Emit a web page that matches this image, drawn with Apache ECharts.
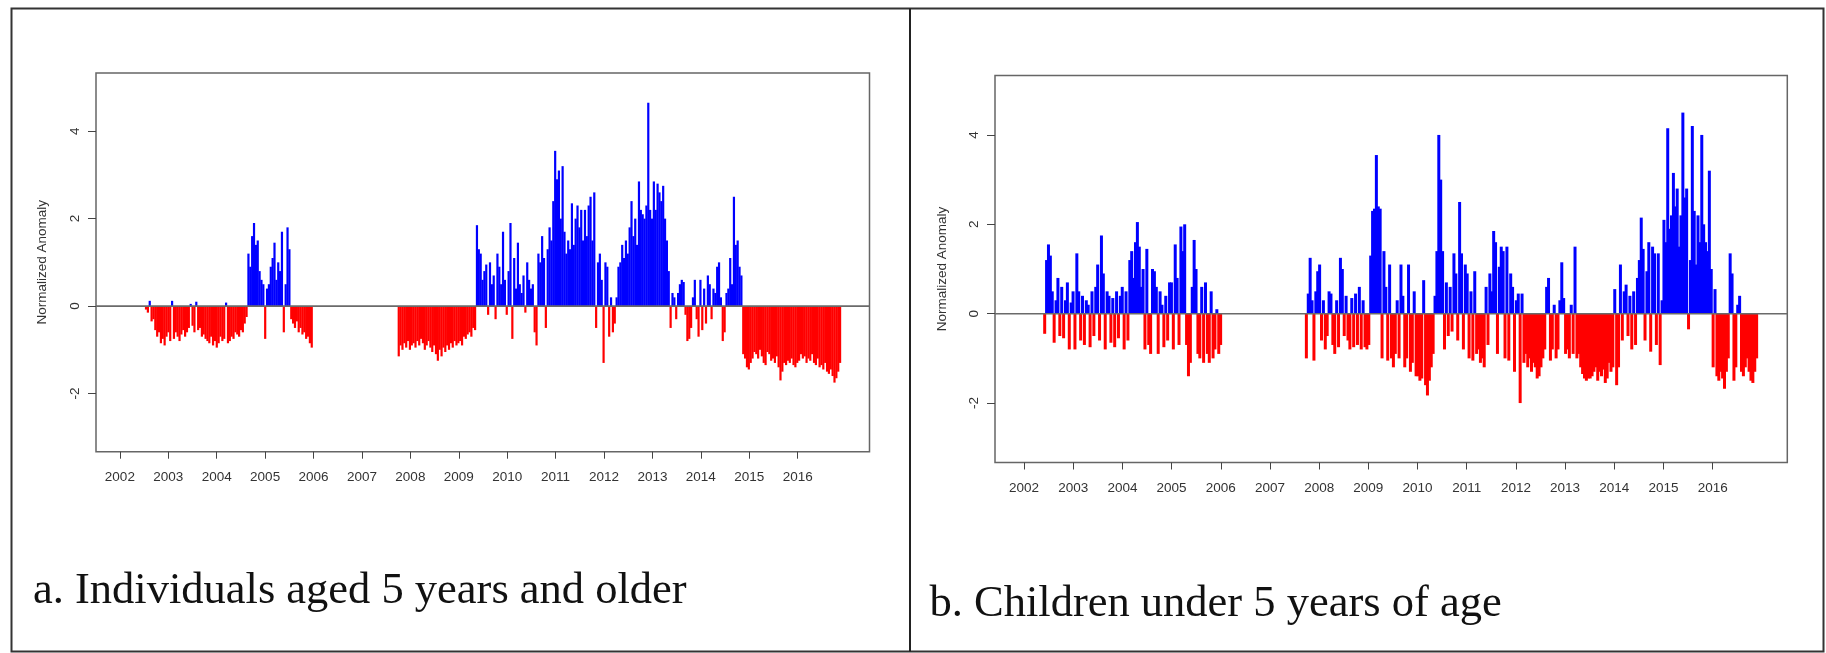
<!DOCTYPE html>
<html><head><meta charset="utf-8">
<script src="https://cdn.jsdelivr.net/npm/echarts@6/dist/echarts.min.js"></script>
<style>html,body{margin:0;padding:0;background:#fff}#c{width:1826px;height:653px}</style>
</head><body><div id="c"></div>
<script>
// ---- data (biweekly normalized anomalies) ----
const STEP = 1 / 26; // two weeks, in years
const yearTicks = [2002, 2003, 2004, 2005, 2006, 2007, 2008, 2009, 2010, 2011, 2012, 2013, 2014, 2015, 2016];
const yTicks = [-2, 0, 2, 4];
const yRange = [-3.33, 5.33];
const aRange = [2001.507, 2017.483];
const bRange = [2001.41, 2017.517];
const yTitle = 'Normalized Anomaly';
const titleA = 'a. Individuals aged 5 years and older';
const titleB = 'b. Children under 5 years of age';

// Panel a: individuals aged 5 years and older
const aStart1 = 2002.54;
const aSeg1 = [
  -0.08, -0.15, 0.12, -0.35, -0.3, -0.55, -0.7, -0.6, -0.85, -0.75, -0.9, -0.7,
  -0.6, -0.8, 0.12, -0.75, -0.6, -0.7, -0.8, -0.65, -0.55, -0.7, -0.6, -0.5, 0.05,
  -0.45, -0.6, 0.1, -0.55, -0.5, -0.7, -0.65, -0.75, -0.8, -0.85, -0.7, -0.9, -0.8,
  -0.95, -0.85, -0.7, -0.8, -0.75, 0.08, -0.85, -0.8, -0.7, -0.75, -0.6, -0.65, -0.7,
  -0.55, -0.6, -0.4, -0.25,
  1.2, 0.9, 1.6, 1.9, 1.4, 1.5, 0.8, 0.6, 0.5, -0.75, 0.4, 0.5, 0.9, 1.1, 1.45, 0.6, 1.0, 0.8, 1.7, -0.6, 0.5, 1.8, 1.3,
  -0.3, -0.4, -0.5, -0.35, -0.6, -0.5, -0.65, -0.6, -0.75, -0.7, -0.85, -0.95
];
const aStart2 = 2007.76;
const aSeg2 = [
  -1.15, -0.9, -1.0, -0.85, -0.95, -0.8,
  -1.0, -0.9, -0.85, -0.95, -0.8, -0.9, -0.75, -0.85, -1.0, -0.9, -0.8, -0.95, -1.05,
  -0.9, -1.1, -1.25, -1.0, -1.15, -0.95, -1.05, -0.9, -1.0, -0.85, -0.95, -0.8, -0.9,
  -0.85, -0.8, -0.9, -0.7, -0.75, -0.65, -0.6, -0.7, -0.5, -0.55,
  1.85, 1.3, 1.2, 0.6, 0.8, 0.95, -0.2, 1.0, 0.5, 0.7, -0.3, 1.2, 0.9, 0.5, 1.7, 0.6,
  -0.2, 0.8, 1.9, -0.75, 1.1, 0.4, 1.45, 0.5, 0.3, 0.7, -0.15, 1.0, 0.6,
  0.4, 0.5, -0.6, -0.9, 1.2, 1.0, 1.6, 1.1, -0.5, 1.3, 1.8, 1.5, 2.4,
  3.55, 2.9, 3.1, 2.0, 3.2, 1.7, 1.2, 1.5, 1.3, 2.35, 1.4, 2.0, 2.3,
  1.8, 2.2, 1.5, 2.2, 1.6, 2.3, 2.5, 1.5, 2.6, -0.5, 1.0, 1.2, 0.6,
  -1.3, 1.0, 0.9, -0.7, 0.2, -0.6, -0.4, 0.2, 0.9, 1.0, 1.4, 1.1, 1.5,
  1.2, 1.8, 2.4, 1.6, 2.0, 1.4, 2.85, 2.2, 2.1, 2.0, 2.3, 4.65, 2.2,
  2.0, 2.85, 2.2, 2.8, 2.6, 2.4, 2.75, 2.0, 1.5, 0.8, -0.5, 0.3, 0.2,
  -0.3, 0.3, 0.5, 0.6, 0.55, -0.2, -0.8, -0.75, -0.5, 0.2, 0.6, -0.3, -0.7,
  0.6, -0.55, 0.4, -0.4, 0.7, 0.5, -0.3, 0.4, 0.3, 0.9, 1.0, 0.2, -0.8,
  -0.6, 0.3, 0.4, 1.1, 0.5, 2.5, 1.4, 1.5, 0.9, 0.7,
  -1.1, -1.2, -1.4,
  -1.45, -1.3, -1.2, -1.05, -1.1, -1.2, -1.0, -1.15, -1.3, -1.35, -1.05, -1.1, -1.25,
  -1.2, -1.3, -1.15, -1.4, -1.7, -1.5, -1.3, -1.35, -1.25, -1.3, -1.2, -1.35, -1.4,
  -1.3, -1.25, -1.1, -1.2, -1.15, -1.3, -1.2, -1.25, -1.1, -1.3, -1.35, -1.2, -1.4,
  -1.35, -1.45, -1.3, -1.5, -1.55, -1.45, -1.6, -1.75, -1.65, -1.5, -1.3
];

// Panel b: children under 5 years of age
const bStart1 = 2002.42;
const bSeg1 = [
  -0.45, 1.2, 1.55, 1.3, 0.5, -0.65, 0.3, 0.8, -0.5, 0.6, -0.55, 0.3, 0.7, -0.8, 0.25,
  0.5, -0.8, 1.35, 0.5, -0.6, 0.4, -0.7, 0.3, 0.2, -0.75, 0.5, -0.5, 0.6,
  1.1, -0.6, 1.75, 0.9, -0.8, 0.5, 0.4, -0.65, 0.35, -0.75, 0.5, -0.55, 0.4,
  0.6, -0.8, 0.5, -0.6, 1.2, 1.4, 0.8, 1.6, 2.05, 1.5, 0.6, 1.0, -0.8,
  1.45, -0.7, -0.9, 1.0, 0.95, 0.6, -0.9, 0.5, 0.2, -0.75, 0.4, -0.6, 0.7,
  0.7, -0.8, 1.55, 0.8, -0.7, 1.95, 1.4, 2.0, -0.7, -1.4, -1.1, 0.6, 1.65,
  1.0, -0.9, -1.0, 0.6, -1.1, 0.7, -0.9, -1.1, 0.5, -1.0, -0.8, 0.1, -0.9, -0.7
];
const bStart2 = 2007.74;
const bSeg2 = [
  -1.0, 0.45, 1.25, 0.3, -1.05, 0.5, 0.95,
  1.1, -0.6, 0.3, -0.8, -0.5, 0.5, 0.45, -0.7, -0.9, 0.3, -0.75, 1.25, 1.0,
  -0.5, 0.4, -0.6, -0.8, 0.35, -0.75, 0.45, -0.7, 0.6, -0.8, 0.3, -0.75, -0.8,
  -0.7, 1.3, 2.3, 2.35, 3.55, 2.4, 2.35, -1.0, 1.4, 0.6, -1.05, 1.1, -1.0,
  -1.2, -0.9, 0.3, -1.0, 1.1, 0.4, -1.2, -1.0, 1.1, -1.3, -1.1, 0.5, -1.4,
  -1.4, -1.5, -1.45, 0.75, -1.6, -1.83, -1.5, -1.2, -0.9, 0.4, 1.4, 4.0, 3.0,
  1.4, -0.8, 0.7, -0.5, 0.6, -0.4, 1.35, 0.9, -0.6, 2.5, 1.35, -0.8, 1.1,
  0.9, -1.0, 0.5, -1.05, 0.95, -0.9, -0.8, -1.1, -1.0, -1.2, 0.6, -0.7, 0.9,
  0.5, 1.85, 1.6, -0.9, 1.05, 1.5, 1.4, -1.0, 1.5, -1.05, 0.9, 0.6, -1.3,
  0.3, 0.45, -2.0, 0.45, -1.1, -0.9, -1.2, -1.0, -1.3, -1.1, -1.2, -1.45, -1.4,
  -1.2, -1.0, -0.8, 0.6, 0.8, -1.05, -0.8, 0.2, -1.0, -0.8, 0.3, 1.15, 0.35,
  -0.9, -0.8, -1.0, 0.2, -0.9, 1.5, -1.0, -0.9, -1.2, -1.35, -1.45, -1.5, -1.45,
  -1.45, -1.4, -1.3, -1.2, -1.5, -1.3, -1.4, -1.25, -1.55, -1.45, -1.1, -1.3, -1.2,
  0.55, -1.6, -1.2, 1.1, -0.6, 0.5, 0.65, -0.5, 0.4, -0.8, 0.5, -0.7, 0.8,
  1.2, 2.15, 1.45, -0.6, 0.95, 1.6, -0.85, 1.5, 1.35, -0.7, 1.35, -1.15, 0.3,
  2.1, 1.6, 4.15, 1.9, 2.2, 3.15, 2.4, 2.8, 1.5, 2.2, 4.5, 2.6, 2.8,
  -0.35, 1.2, 4.2, 2.3, 1.1, 2.2, 1.6, 4.0, 2.0, 1.6, 1.4, 3.2, 1.0,
  -1.2, 0.55, -1.4, -1.5, -1.3, -1.45, -1.68, -1.3, -1.0, 1.35, 0.9, -1.5, -1.2,
  0.2, 0.4, -1.3, -1.4, -1.2, -1.0, -1.3, -1.5, -1.55, -1.3, -1.0
];

// ---- build ----
function seg(start, vals) { return vals.map((v, i) => [start + i * STEP, v]); }
const aData = seg(aStart1, aSeg1).concat(seg(aStart2, aSeg2));
const bData = seg(bStart1, bSeg1).concat(seg(bStart2, bSeg2));

const SANS = 'Liberation Sans';
const TXT = '#333';

function xAxisFor(gi, range) {
  return {
    type: 'value', gridIndex: gi, min: range[0], max: range[1],
    axisLine: { show: false, onZero: false }, splitLine: { show: false },
    axisTick: { show: true, customValues: yearTicks, length: 7, lineStyle: { color: '#444', width: 1 } },
    axisLabel: { show: true, customValues: yearTicks, formatter: v => String(v), margin: 19,
      fontSize: 13.5, color: TXT, fontFamily: SANS }
  };
}
function yAxisFor(gi, gap) {
  return {
    type: 'value', gridIndex: gi, min: yRange[0], max: yRange[1],
    name: yTitle, nameLocation: 'middle', nameGap: gap,
    nameTextStyle: { fontSize: 13.5, color: TXT, fontFamily: SANS },
    axisLine: { show: false, onZero: false }, splitLine: { show: false },
    axisTick: { show: true, customValues: yTicks, length: 8, lineStyle: { color: '#444', width: 1 } },
    axisLabel: { show: true, customValues: yTicks, formatter: v => String(v), rotate: 90, margin: 14,
      fontSize: 13.5, color: TXT, fontFamily: SANS }
  };
}
function barSeries(idx, data, w) {
  return {
    type: 'bar', xAxisIndex: idx, yAxisIndex: idx, data: data, barWidth: w, z: 2,
    itemStyle: { color: p => (p.value[1] >= 0 ? '#0000ff' : '#ff0000') }
  };
}
function zeroLine(idx, range) {
  return {
    type: 'line', xAxisIndex: idx, yAxisIndex: idx, data: [[range[0], 0], [range[1], 0]],
    symbol: 'none', silent: true, z: 5,
    lineStyle: { color: '#6a6a6a', width: 1.6 }
  };
}

const chart = echarts.init(document.getElementById('c'), null, { renderer: 'canvas' });
chart.setOption({
  animation: false,
  backgroundColor: '#ffffff',
  grid: [
    { left: 96, top: 73, width: 773.5, height: 378.7, show: true, borderColor: '#666', borderWidth: 1.5, containLabel: false },
    { left: 995, top: 75.5, width: 792.3, height: 387, show: true, borderColor: '#666', borderWidth: 1.5, containLabel: false }
  ],
  xAxis: [xAxisFor(0, aRange), xAxisFor(1, bRange)],
  yAxis: [yAxisFor(0, 47), yAxisFor(1, 46)],
  series: [barSeries(0, aData, 2.2), barSeries(1, bData, 3.0), zeroLine(0, aRange), zeroLine(1, bRange)],
  graphic: [
    { type: 'rect', shape: { x: 11.5, y: 8.5, width: 1812, height: 643 }, style: { fill: 'none', stroke: '#333', lineWidth: 2 } },
    { type: 'line', shape: { x1: 910, y1: 8.5, x2: 910, y2: 651.5 }, style: { stroke: '#222', lineWidth: 2 } },
    { type: 'text', x: 33, y: 591, style: { text: titleA, fontSize: 44.5, fontFamily: 'Liberation Serif', fill: '#111', verticalAlign: 'middle', align: 'left' } },
    { type: 'text', x: 929.5, y: 604, style: { text: titleB, fontSize: 44.5, fontFamily: 'Liberation Serif', fill: '#111', verticalAlign: 'middle', align: 'left' } }
  ]
});
</script>
</body></html>
